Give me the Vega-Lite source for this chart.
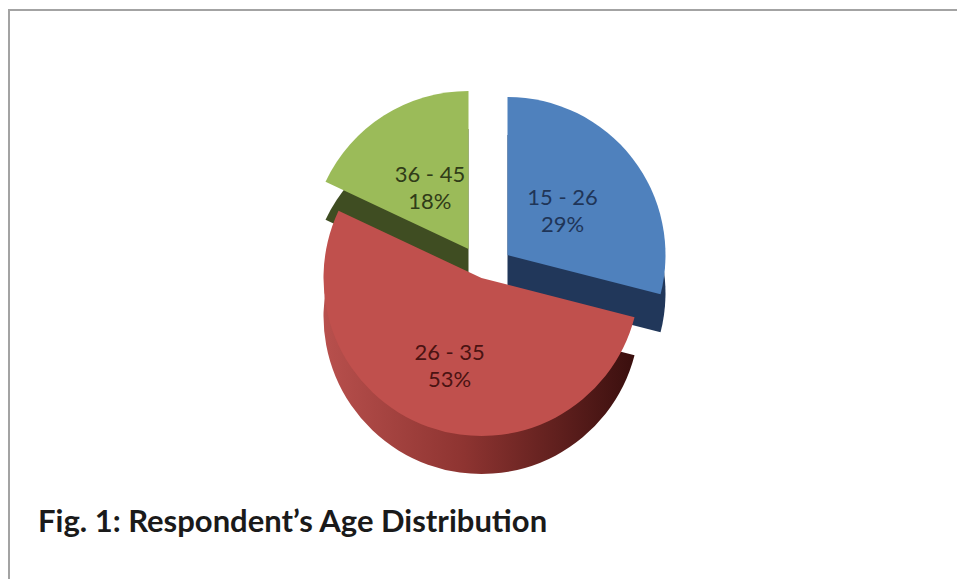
{
  "$schema": "https://vega.github.io/schema/vega-lite/v6.json",
  "width": 949,
  "height": 570,
  "autosize": {"type": "none"},
  "padding": {"left": 9, "top": 10, "right": 0, "bottom": 0},
  "background": "white",
  "view": {"stroke": "#a3a3a3", "strokeWidth": 2, "strokeDash": [948, 1521, 570, 0]},
  "title": {
    "text": "Fig. 1: Respondent’s Age Distribution",
    "orient": "bottom",
    "anchor": "start",
    "baseline": "alphabetic",
    "offset": -48,
    "dx": 29,
    "font": "Lato",
    "fontSize": 31,
    "fontWeight": "bold",
    "color": "#1a1a1a"
  },
  "data": {
    "values": [
      {"group": "15 - 26", "share": 0.29},
      {"group": "26 - 35", "share": 0.53},
      {"group": "36 - 45", "share": 0.18}
    ]
  },
  "transform": [
    {"stack": "share", "groupby": [], "sort": [{"field": "group", "order": "ascending"}], "as": ["s0", "s1"]}
  ],
  "layer": [
    {
      "transform": [{"filter": "datum.group === '36 - 45'"}],
      "mark": {"type": "arc", "radius": 158, "color": "#3f4d22", "xOffset": -15, "yOffset": -8},
      "encoding": {
        "theta": {"field": "s0", "type": "quantitative", "stack": null, "scale": {"domain": [0, 1]}},
        "theta2": {"field": "s1"}
      }
    },
    {
      "transform": [{"filter": "datum.group === '36 - 45'"}],
      "mark": {"type": "arc", "radius": 158, "color": "#9bbb59", "xOffset": -15, "yOffset": -46},
      "encoding": {
        "theta": {"field": "s0", "type": "quantitative", "stack": null, "scale": {"domain": [0, 1]}},
        "theta2": {"field": "s1"}
      }
    },
    {
      "transform": [{"filter": "datum.group === '15 - 26'"}],
      "mark": {"type": "arc", "radius": 158, "color": "#21375a", "xOffset": 24, "yOffset": -2},
      "encoding": {
        "theta": {"field": "s0", "type": "quantitative", "stack": null, "scale": {"domain": [0, 1]}},
        "theta2": {"field": "s1"}
      }
    },
    {
      "transform": [{"filter": "datum.group === '15 - 26'"}],
      "mark": {"type": "arc", "radius": 158, "color": "#4f81bd", "xOffset": 24, "yOffset": -40},
      "encoding": {
        "theta": {"field": "s0", "type": "quantitative", "stack": null, "scale": {"domain": [0, 1]}},
        "theta2": {"field": "s1"}
      }
    },
    {
      "transform": [{"filter": "datum.group === '26 - 35'"}],
      "mark": {
        "type": "arc", "radius": 158, "xOffset": -2, "yOffset": 21,
        "color": {
          "gradient": "linear", "x1": 0, "y1": 0, "x2": 1, "y2": 0,
          "stops": [
            {"offset": 0, "color": "#b8504d"},
            {"offset": 0.45, "color": "#8e3431"},
            {"offset": 1, "color": "#3a0f0e"}
          ]
        }
      },
      "encoding": {
        "theta": {"field": "s0", "type": "quantitative", "stack": null, "scale": {"domain": [0, 1]}},
        "theta2": {"field": "s1"}
      }
    },
    {
      "transform": [{"filter": "datum.group === '26 - 35'"}],
      "mark": {"type": "arc", "radius": 158, "color": "#c0504d", "xOffset": -2, "yOffset": -17},
      "encoding": {
        "theta": {"field": "s0", "type": "quantitative", "stack": null, "scale": {"domain": [0, 1]}},
        "theta2": {"field": "s1"}
      }
    },
    {
      "mark": {"type": "text", "radius": 100, "yOffset": -23, "dy": -13, "font": "Lato", "fontSize": 22},
      "encoding": {
        "theta": {"field": "share", "type": "quantitative", "stack": true, "scale": {"domain": [0, 1]}},
        "order": {"field": "group", "type": "ordinal"},
        "text": {"field": "group", "type": "nominal"},
        "color": {
          "condition": [
            {"test": "datum.group === '15 - 26'", "value": "#1f3558"},
            {"test": "datum.group === '36 - 45'", "value": "#303c18"}
          ],
          "value": "#4a1312"
        }
      }
    },
    {
      "mark": {"type": "text", "radius": 100, "yOffset": -23, "dy": 14, "font": "Lato", "fontSize": 22},
      "encoding": {
        "theta": {"field": "share", "type": "quantitative", "stack": true, "scale": {"domain": [0, 1]}},
        "order": {"field": "group", "type": "ordinal"},
        "text": {"field": "share", "type": "quantitative", "format": ".0%"},
        "color": {
          "condition": [
            {"test": "datum.group === '15 - 26'", "value": "#1f3558"},
            {"test": "datum.group === '36 - 45'", "value": "#303c18"}
          ],
          "value": "#4a1312"
        }
      }
    }
  ]
}
